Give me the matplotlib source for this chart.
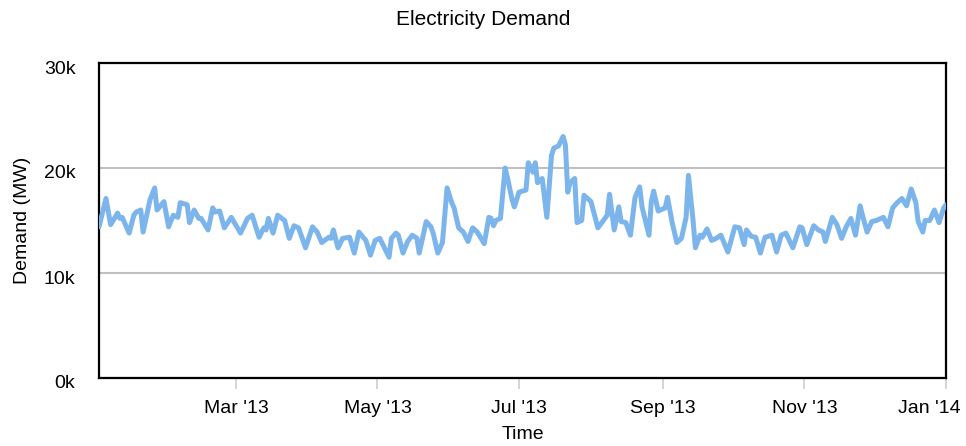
import numpy as np
import pandas as pd
import matplotlib
matplotlib.use("Agg")
import matplotlib.pyplot as plt
import matplotlib.dates as mdates
from matplotlib.ticker import FuncFormatter
from matplotlib.transforms import ScaledTranslation

plt.rcParams['font.family'] = ['Liberation Sans', 'DejaVu Sans']

# day offsets from 2013-01-01 and demand in thousands of MW
days = [0, 3, 5, 8, 9, 10, 13, 15, 16, 18, 19, 22, 24, 25, 28, 30, 32, 34, 35, 38,
        39, 41, 43, 44, 47, 49, 50, 52, 54, 57, 61, 64, 66, 69, 71, 72, 73, 75, 77, 80,
        82, 84, 86, 89, 92, 94, 96, 99, 100, 101, 103, 105, 108, 110, 112, 115, 117, 119, 121,
        125, 126, 128, 129, 131, 133, 135, 137, 138, 141, 143, 144, 146, 148, 150, 152, 153,
        155, 157, 159, 161, 163, 166, 168, 169, 170, 171, 173, 175, 176, 178, 179, 181,
        184, 185, 187, 188, 189, 191, 193, 195, 196, 198, 200, 201, 202, 203, 205, 206, 208,
        209, 211, 212, 215, 217, 219, 220, 222, 224, 225, 227, 229, 231, 233, 234, 237, 238,
        239, 241, 244, 245, 247, 249, 251, 253, 254, 256, 257, 259, 260, 262, 264, 266, 268,
        271, 274, 276, 278, 279, 281, 283, 285, 287, 290, 292, 294, 296, 299, 302, 303,
        305, 308, 310, 312, 313, 316, 318, 320, 322, 324, 326, 328, 329, 331, 333, 335, 338,
        340, 342, 344, 346, 348, 350, 352, 353, 355, 356, 358, 360, 362, 364, 365]
demand_k = [14.4, 17.1, 14.6, 15.7, 15.2, 15.3, 13.8, 15.5, 15.8, 16.0, 13.9, 17.0, 18.1, 16.0, 16.8, 14.4, 15.5, 15.3, 16.7, 16.5,
            14.8, 16.0, 15.2, 15.2, 14.1, 16.2, 15.8, 15.9, 14.3, 15.3, 13.8, 15.2, 15.5, 13.4, 14.3, 14.1, 15.2, 13.8, 15.5, 15.0,
            13.3, 14.5, 14.3, 12.4, 14.4, 13.9, 12.9, 13.4, 13.3, 14.1, 12.4, 13.3, 13.4, 11.9, 13.9, 13.1, 11.7, 13.1, 13.3,
            11.5, 13.3, 13.8, 13.6, 11.9, 13.0, 13.6, 13.3, 11.9, 14.9, 14.4, 13.8, 11.9, 12.9, 18.1, 16.7, 16.2,
            14.3, 13.9, 13.0, 14.3, 13.9, 12.8, 15.3, 15.2, 14.5, 15.0, 15.2, 20.0, 19.1, 17.0, 16.3, 17.7,
            17.9, 20.5, 19.6, 20.5, 18.6, 19.0, 15.3, 21.2, 21.9, 22.1, 23.0, 22.2, 17.7, 18.6, 19.0, 14.8, 15.0,
            17.4, 17.0, 16.8, 14.3, 14.9, 15.5, 17.5, 14.1, 16.3, 14.9, 14.8, 13.6, 17.2, 18.2, 16.3, 13.6, 16.8,
            17.8, 15.9, 16.2, 17.2, 14.8, 12.9, 13.3, 15.3, 19.3, 15.0, 12.4, 13.6, 13.4, 14.2, 13.1, 13.3, 13.6,
            12.0, 14.4, 14.3, 12.7, 14.1, 13.5, 13.4, 11.9, 13.4, 13.6, 12.0, 13.6, 13.8, 12.4, 14.4, 14.3,
            12.7, 14.5, 14.1, 13.9, 13.0, 15.3, 14.6, 13.3, 14.4, 15.2, 13.6, 16.4, 15.5, 13.9, 14.9, 15.0, 15.3,
            14.4, 16.2, 16.7, 17.1, 16.4, 18.0, 16.7, 14.9, 13.9, 15.0, 15.0, 16.0, 14.8, 16.2, 16.5]

tick_dates = ['2013-03-01', '2013-05-01', '2013-07-01', '2013-09-01', '2013-11-01', '2014-01-01']
y_ticks = [0, 10000, 20000, 30000]

dates = pd.Timestamp('2013-01-01') + pd.to_timedelta(days, unit='D')
demand = np.array(demand_k) * 1000

fig = plt.figure(figsize=(9.66, 4.46), dpi=100)
ax = fig.add_axes([99 / 966, (446 - 378) / 446, (946 - 99) / 966, (378 - 63) / 446])

ax.plot(dates, demand, color='#7CB5EC', linewidth=3.6, solid_joinstyle='round', solid_capstyle='round', zorder=3)

ax.set_xlim(pd.Timestamp('2013-01-01'), pd.Timestamp('2014-01-01'))
ax.set_ylim(0, 30000)
ax.set_yticks(y_ticks)
ax.yaxis.set_major_formatter(FuncFormatter(lambda v, p: f"{int(v / 1000)}k"))
ax.set_xticks(pd.to_datetime(tick_dates))
ax.xaxis.set_major_formatter(mdates.DateFormatter("%b '%y"))

ax.grid(axis='y', color='#C0C0C0', linewidth=1.5, zorder=1)
for s in ax.spines.values():
    s.set_linewidth(1.6)
    s.set_color('black')

ax.tick_params(axis='y', length=0, pad=17, labelsize=14)
ax.tick_params(axis='x', length=8, width=1.2, color='#C0D0E0', pad=8, labelsize=14)

# y labels sit a bit below their gridlines, last x label pulled inside
for lab in ax.get_yticklabels():
    lab.set_transform(lab.get_transform() + ScaledTranslation(0, -0.04, fig.dpi_scale_trans))
last = ax.get_xticklabels()[-1]
last.set_transform(last.get_transform() + ScaledTranslation(-0.17, 0, fig.dpi_scale_trans))

ax.set_xlabel('Time', fontsize=14, labelpad=6)
ax.set_ylabel('Demand (MW)', fontsize=14, labelpad=9)
fig.suptitle('Electricity Demand', fontsize=15, y=0.978)

fig.savefig('out.png', dpi=100)
